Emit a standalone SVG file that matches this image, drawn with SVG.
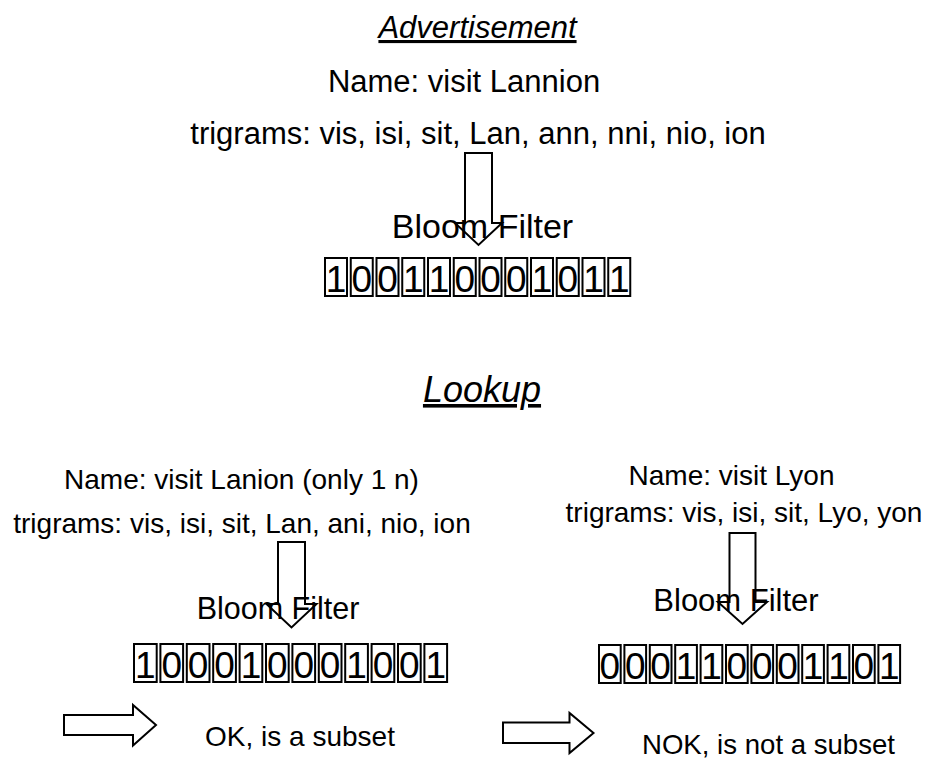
<svg xmlns="http://www.w3.org/2000/svg" width="928" height="758" viewBox="0 0 928 758">
<style>
text{font-family:"Liberation Sans",Arial,Helvetica,sans-serif;fill:#000}
.title{font-style:italic;text-decoration:underline}
.cell{fill:#fff;stroke:#000;stroke-width:2}
.bit{font-size:37px;text-anchor:middle}
.arr{fill:none;stroke:#000;stroke-width:2;stroke-linejoin:miter}
.m{text-anchor:middle}
</style>
<rect width="928" height="758" fill="#fff"/>

<g id="advertisement">
<text class="title m" x="477.5" y="38" font-size="31">Advertisement</text>
<text class="m" x="464" y="92" font-size="31">Name: visit Lannion</text>
<text class="m" x="478" y="144" font-size="31">trigrams: vis, isi, sit, Lan, ann, nni, nio, ion</text>
</g>

<g id="adv-bloom">
<text class="m" x="482.5" y="237.5" font-size="34">Bloom Filter</text>
<g id="adv-bits">
<rect class="cell" x="325" y="258" width="22" height="38"/><text class="bit" x="336" y="291.5">1</text>
<rect class="cell" x="350.75" y="258" width="22" height="38"/><text class="bit" x="361.75" y="291.5">0</text>
<rect class="cell" x="376.5" y="258" width="22" height="38"/><text class="bit" x="387.5" y="291.5">0</text>
<rect class="cell" x="402.25" y="258" width="22" height="38"/><text class="bit" x="413.25" y="291.5">1</text>
<rect class="cell" x="428" y="258" width="22" height="38"/><text class="bit" x="439" y="291.5">1</text>
<rect class="cell" x="453.75" y="258" width="22" height="38"/><text class="bit" x="464.75" y="291.5">0</text>
<rect class="cell" x="479.5" y="258" width="22" height="38"/><text class="bit" x="490.5" y="291.5">0</text>
<rect class="cell" x="505.25" y="258" width="22" height="38"/><text class="bit" x="516.25" y="291.5">0</text>
<rect class="cell" x="531" y="258" width="22" height="38"/><text class="bit" x="542" y="291.5">1</text>
<rect class="cell" x="556.75" y="258" width="22" height="38"/><text class="bit" x="567.75" y="291.5">0</text>
<rect class="cell" x="582.5" y="258" width="22" height="38"/><text class="bit" x="593.5" y="291.5">1</text>
<rect class="cell" x="608.25" y="258" width="22" height="38"/><text class="bit" x="619.25" y="291.5">1</text>
</g>
</g>

<g id="lookup-title">
<text class="title m" x="482" y="402" font-size="36">Lookup</text>
</g>

<g id="lookup-lanion">
<text class="m" x="241.5" y="489" font-size="28">Name: visit Lanion (only 1 n)</text>
<text class="m" x="242" y="533" font-size="28">trigrams: vis, isi, sit, Lan, ani, nio, ion</text>
</g>

<g id="lanion-bloom">
<text class="m" x="278" y="619" font-size="30.5">Bloom Filter</text>
<g id="lanion-bits">
<rect class="cell" x="134" y="644" width="22.7" height="38"/><text class="bit" x="145.35" y="677.5">1</text>
<rect class="cell" x="160.4" y="644" width="22.7" height="38"/><text class="bit" x="171.75" y="677.5">0</text>
<rect class="cell" x="186.8" y="644" width="22.7" height="38"/><text class="bit" x="198.15" y="677.5">0</text>
<rect class="cell" x="213.2" y="644" width="22.7" height="38"/><text class="bit" x="224.55" y="677.5">0</text>
<rect class="cell" x="239.6" y="644" width="22.7" height="38"/><text class="bit" x="250.95" y="677.5">1</text>
<rect class="cell" x="266" y="644" width="22.7" height="38"/><text class="bit" x="277.35" y="677.5">0</text>
<rect class="cell" x="292.4" y="644" width="22.7" height="38"/><text class="bit" x="303.75" y="677.5">0</text>
<rect class="cell" x="318.8" y="644" width="22.7" height="38"/><text class="bit" x="330.15" y="677.5">0</text>
<rect class="cell" x="345.2" y="644" width="22.7" height="38"/><text class="bit" x="356.55" y="677.5">1</text>
<rect class="cell" x="371.6" y="644" width="22.7" height="38"/><text class="bit" x="382.95" y="677.5">0</text>
<rect class="cell" x="398" y="644" width="22.7" height="38"/><text class="bit" x="409.35" y="677.5">0</text>
<rect class="cell" x="424.4" y="644" width="22.7" height="38"/><text class="bit" x="435.75" y="677.5">1</text>
</g>
</g>

<g id="lookup-lyon">
<text class="m" x="731.5" y="485" font-size="28">Name: visit Lyon</text>
<text class="m" x="744" y="522" font-size="28">trigrams: vis, isi, sit, Lyo, yon</text>
</g>

<g id="lyon-bloom">
<text class="m" x="736" y="611" font-size="31">Bloom Filter</text>
<g id="lyon-bits">
<rect class="cell" x="599" y="645" width="21.7" height="38"/><text class="bit" x="609.85" y="678.5">0</text>
<rect class="cell" x="624.4" y="645" width="21.7" height="38"/><text class="bit" x="635.25" y="678.5">0</text>
<rect class="cell" x="649.8" y="645" width="21.7" height="38"/><text class="bit" x="660.65" y="678.5">0</text>
<rect class="cell" x="675.2" y="645" width="21.7" height="38"/><text class="bit" x="686.05" y="678.5">1</text>
<rect class="cell" x="700.6" y="645" width="21.7" height="38"/><text class="bit" x="711.45" y="678.5">1</text>
<rect class="cell" x="726" y="645" width="21.7" height="38"/><text class="bit" x="736.85" y="678.5">0</text>
<rect class="cell" x="751.4" y="645" width="21.7" height="38"/><text class="bit" x="762.25" y="678.5">0</text>
<rect class="cell" x="776.8" y="645" width="21.7" height="38"/><text class="bit" x="787.65" y="678.5">0</text>
<rect class="cell" x="802.2" y="645" width="21.7" height="38"/><text class="bit" x="813.05" y="678.5">1</text>
<rect class="cell" x="827.6" y="645" width="21.7" height="38"/><text class="bit" x="838.45" y="678.5">1</text>
<rect class="cell" x="853" y="645" width="21.7" height="38"/><text class="bit" x="863.85" y="678.5">0</text>
<rect class="cell" x="878.4" y="645" width="21.7" height="38"/><text class="bit" x="889.25" y="678.5">1</text>
</g>
</g>

<g id="result-ok">
<text class="m" x="300" y="746" font-size="28">OK, is a subset</text>
</g>
<g id="result-nok">
<text class="m" x="768.5" y="753.5" font-size="27.6">NOK, is not a subset</text>
</g>

<g id="connectors">
<path class="arr" d="M465,153 L492,153 L492,223 L502,223 L478.5,245 L455,223 L465,223 Z"/>
<path class="arr" d="M278,542 L305,542 L305,604 L316.5,604 L291.5,627.5 L266.5,604 L278,604 Z"/>
<path class="arr" d="M729.5,533 L755.5,533 L755.5,602 L767,602 L742.5,624 L718,602 L729.5,602 Z"/>
<path class="arr" d="M64,715 L133,715 L133,705 L156,725 L133,745.5 L133,735 L64,735 Z"/>
<path class="arr" d="M503,722.5 L569.5,722.5 L569.5,713 L593.5,733 L569.5,753 L569.5,743 L503,743 Z"/>
</g>
</svg>
